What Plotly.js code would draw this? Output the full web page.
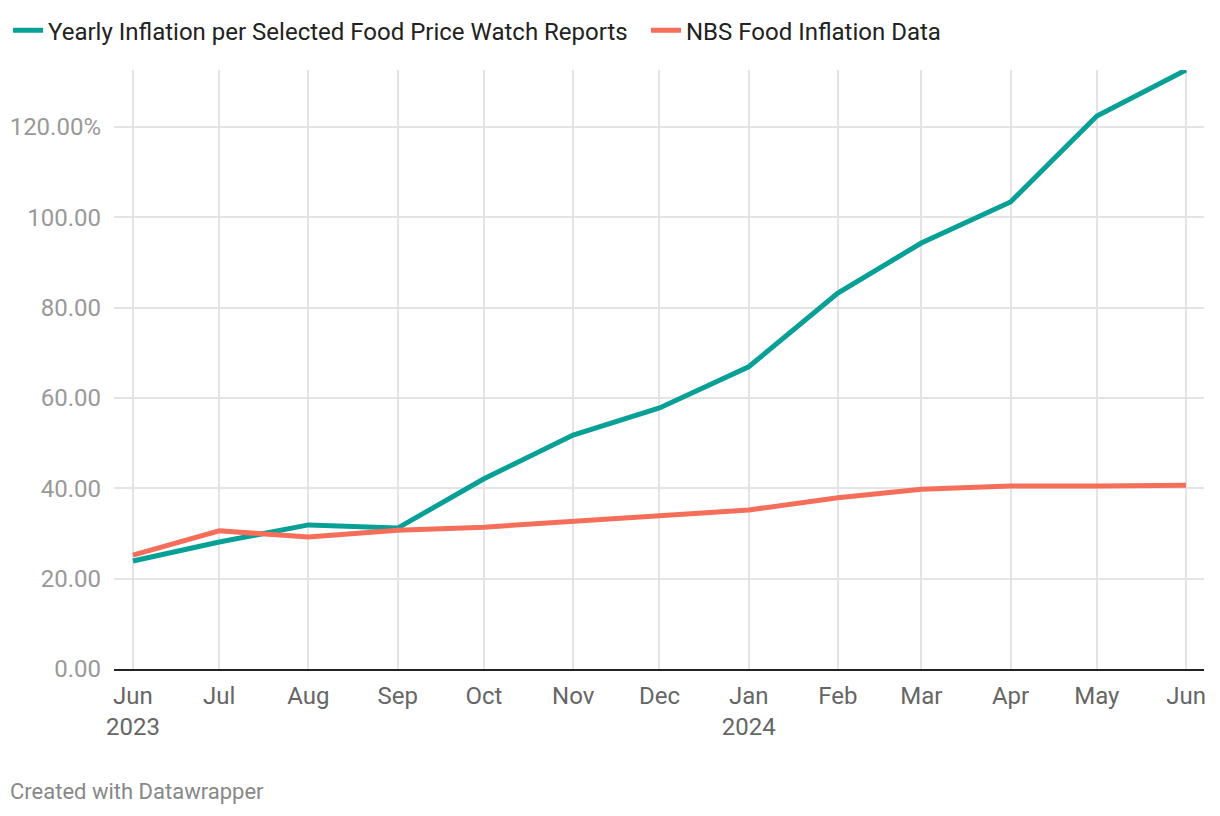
<!DOCTYPE html>
<html>
<head>
<meta charset="utf-8">
<script src="https://cdn.plot.ly/plotly-3.0.1.min.js"></script>
<style>
html,body{margin:0;padding:0;background:#fff;}
#chart{width:1220px;height:816px;}
</style>
</head>
<body>
<div id="chart"></div>
<script>
const months = ["2023-06-01","2023-07-01","2023-08-01","2023-09-01","2023-10-01","2023-11-01","2023-12-01","2024-01-01","2024-02-01","2024-03-01","2024-04-01","2024-05-01","2024-06-01"];
const tickLabels = ["Jun<br>2023","Jul","Aug","Sep","Oct","Nov","Dec","Jan<br>2024","Feb","Mar","Apr","May","Jun"];
const foodPriceWatch = [23.9, 28.1, 31.9, 31.2, 42.1, 51.8, 57.8, 66.9, 83.2, 94.3, 103.4, 122.4, 132.6];
const nbsFood = [25.2, 30.6, 29.2, 30.7, 31.4, 32.8, 33.9, 35.2, 37.9, 39.8, 40.5, 40.5, 40.7];
const yTickVals = [0, 20, 40, 60, 80, 100, 120];
const yTickText = ["0.00","20.00","40.00","60.00","80.00","100.00","120.00%"];

const traces = [
  {x: months, y: foodPriceWatch, name: "Yearly Inflation per Selected Food Price Watch Reports",
   type: "scatter", mode: "lines", line: {color: "#07a096", width: 5}, legend: "legend"},
  {x: months, y: nbsFood, name: "NBS Food Inflation Data",
   type: "scatter", mode: "lines", line: {color: "#f56e5a", width: 5}, legend: "legend2"}
];

const legendBase = {orientation: "h", xanchor: "left", yref: "container", y: 0.99, yanchor: "top",
  font: {size: 24, color: "#222"}, itemwidth: 30, bgcolor: "rgba(0,0,0,0)"};

const layout = {
  width: 1220, height: 816,
  margin: {l: 114, r: 16, t: 70, b: 147},
  paper_bgcolor: "#fff", plot_bgcolor: "#fff",
  font: {family: "Roboto, sans-serif", size: 24, color: "#666"},
  showlegend: true,
  legend: Object.assign({}, legendBase, {xref: "container", x: 0.0066}),
  legend2: Object.assign({}, legendBase, {xref: "container", x: 0.5295}),
  xaxis: {type: "date", range: ["2023-05-25 10:00", "2024-06-07 06:00"],
          tickvals: months, ticktext: tickLabels, tickangle: 0,
          showgrid: true, gridcolor: "#e4e4e4", gridwidth: 2,
          showline: true, linecolor: "#222", linewidth: 2,
          ticks: "", ticklabelstandoff: 4,
          tickfont: {size: 24, color: "#666"}, fixedrange: true, zeroline: false},
  yaxis: {range: [0, 132.6], tickvals: yTickVals, ticktext: yTickText,
          showgrid: true, gridcolor: "#e4e4e4", gridwidth: 2, zeroline: false,
          showline: false, ticks: "", ticklabelstandoff: 12,
          tickfont: {size: 24, color: "#999"}, fixedrange: true},
  annotations: [
    {text: "Created with Datawrapper", xref: "paper", yref: "paper", x: -0.097, y: 0,
     xanchor: "left", yanchor: "top", yshift: -108, showarrow: false,
     font: {size: 22, color: "#888"}}
  ]
};

Plotly.newPlot("chart", traces, layout, {displayModeBar: false, staticPlot: true});
</script>
</body>
</html>
